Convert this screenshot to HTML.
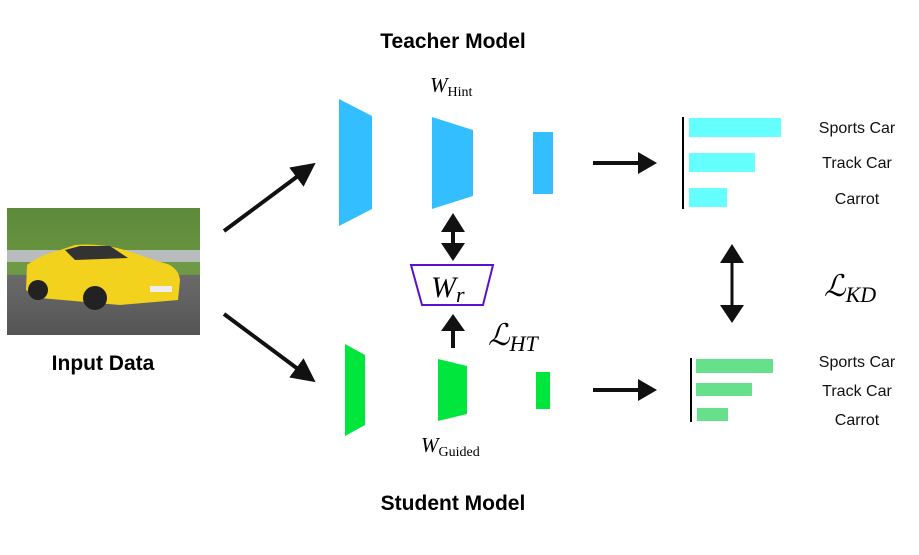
<!DOCTYPE html>
<html><head><meta charset="utf-8"><style>
html,body{margin:0;padding:0;background:#fff;}
body{width:919px;height:555px;position:relative;overflow:hidden;font-family:"Liberation Sans",sans-serif;}
</style></head><body>
<svg width="919" height="555" viewBox="0 0 919 555" xmlns="http://www.w3.org/2000/svg" style="position:absolute;left:0;top:0">
<defs>
<marker id="ah" markerWidth="6" markerHeight="6" refX="3" refY="3" orient="auto" markerUnits="strokeWidth">
<path d="M0,0 L6,3 L0,6 z" fill="#111"/></marker>
<linearGradient id="grass" x1="0" y1="0" x2="0" y2="1"><stop offset="0" stop-color="#5d8a3a"/><stop offset="1" stop-color="#7aa04a"/></linearGradient>
<linearGradient id="road" x1="0" y1="0" x2="0" y2="1"><stop offset="0" stop-color="#6a6a6a"/><stop offset="1" stop-color="#555"/></linearGradient>
</defs>
<text x="453" y="48" text-anchor="middle" font-size="21" font-weight="bold" font-family="Liberation Sans, sans-serif">Teacher Model</text>
<text x="453" y="510" text-anchor="middle" font-size="21" font-weight="bold" font-family="Liberation Sans, sans-serif">Student Model</text>
<text x="103" y="370" text-anchor="middle" font-size="21" font-weight="bold" font-family="Liberation Sans, sans-serif">Input Data</text>
<!-- car image -->
<rect x="7" y="208" width="193" height="127" fill="url(#grass)"/>
<rect x="7" y="250" width="193" height="12" fill="#b8bcbc"/>
<rect x="7" y="262" width="193" height="12" fill="#6f9a45"/>
<rect x="7" y="275" width="193" height="60" fill="url(#road)"/>
<path d="M27,265 Q40,255 60,250 L75,245 Q100,243 125,250 L160,262 Q178,265 180,280 L178,300 L120,305 L40,298 L26,290 Z" fill="#f2d21c"/>
<path d="M65,250 L80,246 L110,246 L128,258 L75,260 Z" fill="#333"/>
<circle cx="38" cy="290" r="10" fill="#222"/><circle cx="95" cy="298" r="12" fill="#222"/>
<rect x="150" y="286" width="22" height="6" fill="#eee"/>
<!-- big arrows -->
<line x1="224" y1="231" x2="306" y2="170" stroke="#111" stroke-width="4" marker-end="url(#ah)"/>
<line x1="224" y1="314" x2="306" y2="375" stroke="#111" stroke-width="4" marker-end="url(#ah)"/>
<!-- teacher -->
<polygon points="339,99 372,116 372,209 339,226" fill="#33bfff"/>
<polygon points="432,117 473,130 473,196 432,209" fill="#33bfff"/>
<rect x="533" y="132" width="20" height="62" fill="#33bfff"/>
<text x="430" y="92" font-size="21" font-style="italic" font-family="Liberation Serif, serif">W<tspan font-size="14" font-style="normal" dy="4">Hint</tspan></text>
<!-- student -->
<polygon points="345,344 365,355 365,425 345,436" fill="#00e63c"/>
<polygon points="438,359 467,366 467,414 438,421" fill="#00e63c"/>
<rect x="536" y="372" width="14" height="37" fill="#00e63c"/>
<text x="421" y="452" font-size="21" font-style="italic" font-family="Liberation Serif, serif">W<tspan font-size="14" font-style="normal" dy="4">Guided</tspan></text>
<!-- Wr -->
<polygon points="411,265 493,265 483,305 422,305" fill="#fff" stroke="#5a10d0" stroke-width="2"/>
<text x="431" y="297" font-size="30" font-style="italic" font-family="Liberation Serif, serif">W<tspan font-size="22" dy="5">r</tspan></text>
<!-- vertical arrows -->
<line x1="453" y1="222" x2="453" y2="252" stroke="#111" stroke-width="4"/>
<polygon points="441,232 465,232 453,213" fill="#111"/>
<polygon points="441,243 465,243 453,261" fill="#111"/>
<line x1="453" y1="325" x2="453" y2="348" stroke="#111" stroke-width="4"/>
<polygon points="441,331 465,331 453,314" fill="#111"/>
<text x="488" y="345" font-size="30" font-style="italic" font-family="Liberation Serif, serif">ℒ<tspan font-size="22" dy="6">HT</tspan></text>
<!-- right arrows -->
<line x1="593" y1="163" x2="640" y2="163" stroke="#111" stroke-width="4"/>
<polygon points="638,152 657,163 638,174" fill="#111"/>
<line x1="593" y1="390" x2="640" y2="390" stroke="#111" stroke-width="4"/>
<polygon points="638,379 657,390 638,401" fill="#111"/>
<!-- KD arrow -->
<line x1="732" y1="255" x2="732" y2="312" stroke="#111" stroke-width="3"/>
<polygon points="720,263 744,263 732,244" fill="#111"/>
<polygon points="720,305 744,305 732,323" fill="#111"/>
<text x="824" y="296" font-size="30" font-style="italic" font-family="Liberation Serif, serif">ℒ<tspan font-size="22" dy="6">KD</tspan></text>
<!-- teacher bars -->
<line x1="683" y1="117" x2="683" y2="209" stroke="#000" stroke-width="2"/>
<rect x="689" y="118" width="92" height="19" fill="#66ffff"/>
<rect x="689" y="153" width="66" height="19" fill="#66ffff"/>
<rect x="689" y="188" width="38" height="19" fill="#66ffff"/>
<g font-size="16" font-family="Liberation Sans, sans-serif" text-anchor="middle" fill="#111">
<text x="857" y="133">Sports Car</text>
<text x="857" y="168">Track Car</text>
<text x="857" y="204">Carrot</text>
<text x="857" y="367">Sports Car</text>
<text x="857" y="396">Track Car</text>
<text x="857" y="425">Carrot</text>
</g>
<!-- student bars -->
<line x1="691" y1="358" x2="691" y2="422" stroke="#000" stroke-width="2"/>
<rect x="696" y="359" width="77" height="14" fill="#66e08a"/>
<rect x="696" y="383" width="56" height="13" fill="#66e08a"/>
<rect x="697" y="408" width="31" height="13" fill="#66e08a"/>
</svg>
</body></html>
